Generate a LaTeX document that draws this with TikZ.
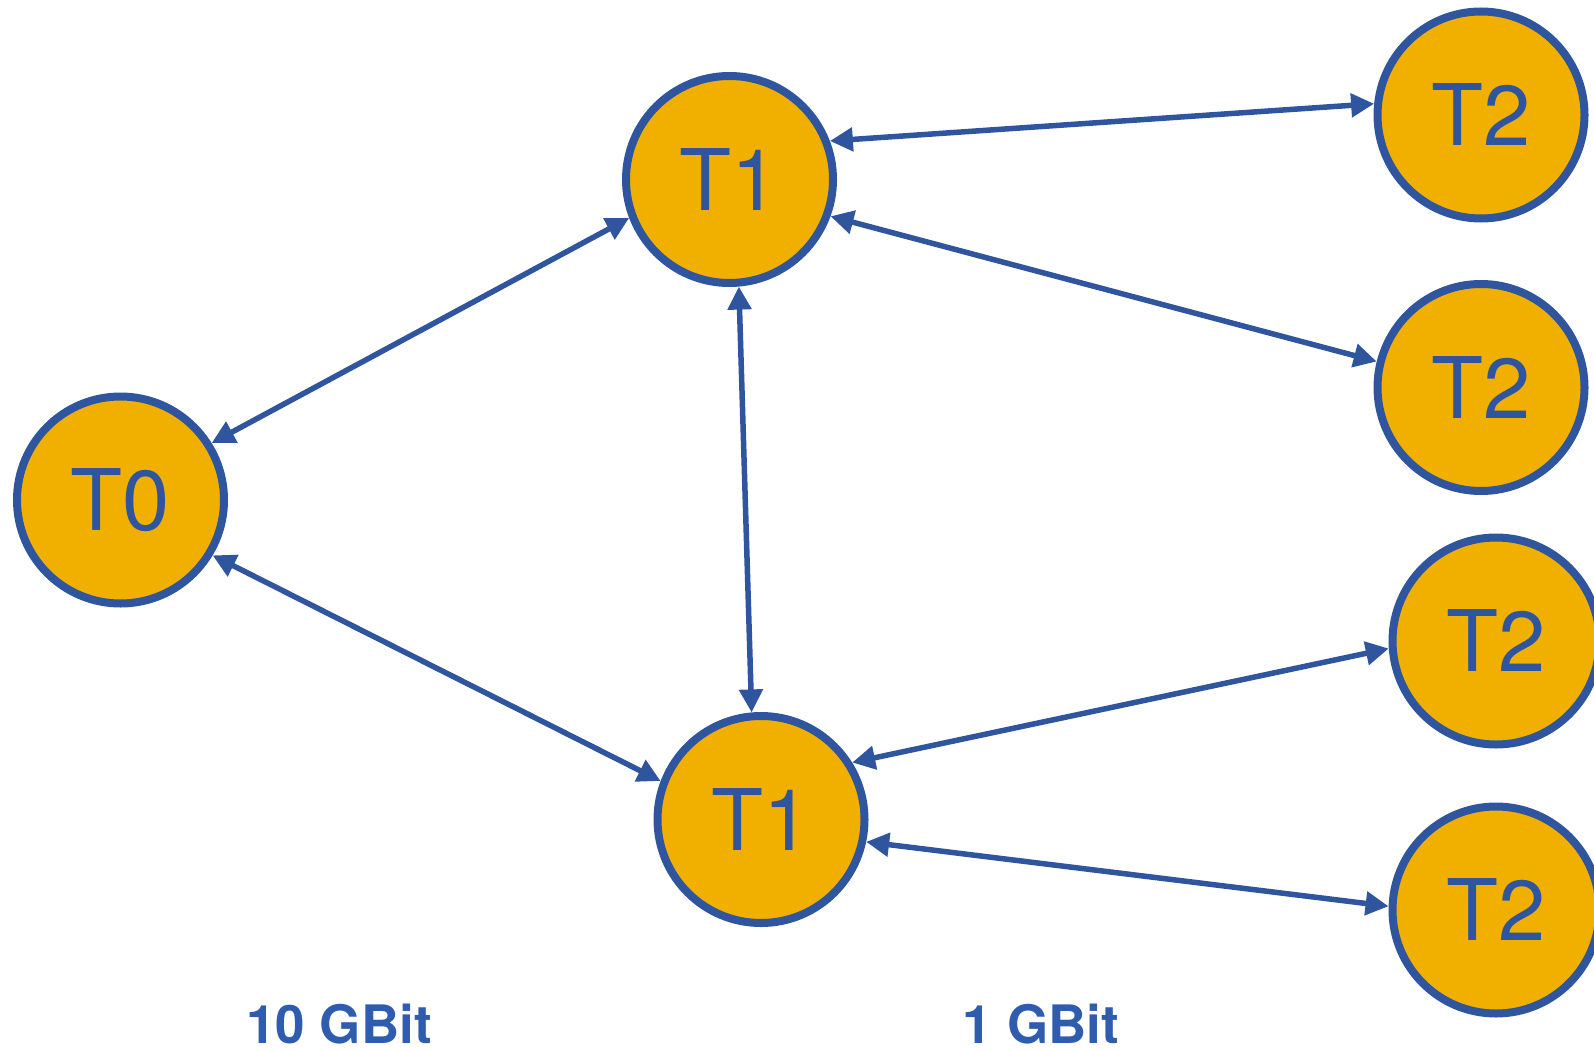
\documentclass[tikz,border=0pt]{standalone}
\usepackage{fontspec}
\setmainfont{TeX Gyre Heros}
\usetikzlibrary{arrows.meta}
\definecolor{nodefill}{RGB}{241,176,0}
\definecolor{linkblue}{RGB}{47,85,158}
\definecolor{labelblue}{RGB}{48,92,176}
\tikzset{
  tier/.style={circle, draw=linkblue, fill=nodefill, line width=8pt,
    minimum size=207pt, inner sep=0pt, text=linkblue,
    font=\fontsize{85}{90}\selectfont},
  link/.style={draw=linkblue, line width=5.5pt,
    {Triangle[length=23pt,width=23pt]}-{Triangle[length=23pt,width=23pt]}},
  speed/.style={text=labelblue, anchor=base, inner sep=0pt,
    font=\bfseries\fontsize{53}{60}\selectfont}
}
\begin{document}
\begin{tikzpicture}[x=1pt,y=-1pt]
\useasboundingbox (0,0) rectangle (1594,1051);
% nodes of the three tiers
\node[tier] (t0)  at (120.5,500) {T0};
\node[tier] (t1a) at (729.5,179.5) {T1};
\node[tier] (t1b) at (761,819.5) {T1};
\node[tier] (t2a) at (1481,115) {T2};
\node[tier] (t2b) at (1481,387.5) {T2};
\node[tier] (t2c) at (1496,641) {T2};
\node[tier] (t2d) at (1496,910) {T2};
% links
\draw[link] (t0.32.7)  -- (t1a.201);
\draw[link] (t0.-31.8) -- (t1b.159.4);
\draw[link] (t1a.-85.5) -- (t1b.95.4);
\draw[link] (t1a.21)   -- (t2a.174.6);
\draw[link] (t1a.-20)  -- (t2b.166.3);
\draw[link] (t1b.32.7) -- (t2c.184.4);
\draw[link] (t1b.-12.7) -- (t2d.178.4);
% bandwidth labels
\node[speed] (bw10) at (339,1043) {10 GBit};
\node[speed] (bw1)  at (1041,1043) {1 GBit};
\end{tikzpicture}
\end{document}
